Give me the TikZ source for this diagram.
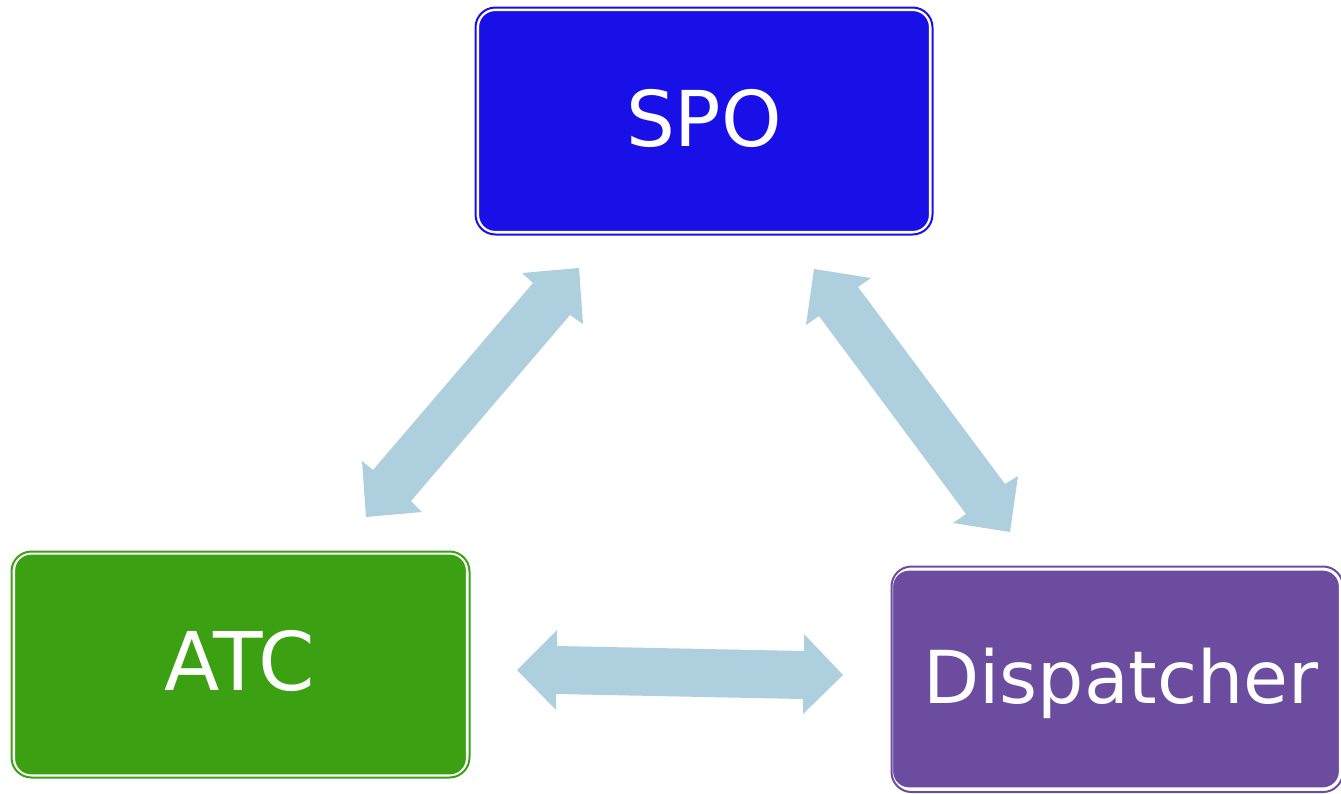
\documentclass[tikz,border=0pt]{standalone}
\usepackage{fontspec}
\setmainfont{DejaVu Sans}
\definecolor{spoblue}{HTML}{1810E6}
\definecolor{atcgreen}{HTML}{3BA012}
\definecolor{dispurple}{HTML}{6B4C9F}
\definecolor{arrowblue}{HTML}{AECFDE}
\tikzset{
  boxnode/.style={draw=white, line width=2.2pt, rounded corners=17pt, inner sep=0pt, outer sep=0pt},
  boxrim/.style={line width=2pt, rounded corners=20pt},
  lbl/.style={text=white, anchor=base, inner sep=0pt},
  blockarrow/.style={fill=arrowblue, draw=none}
}
\begin{document}
\begin{tikzpicture}[x=1pt, y=-1pt]
\useasboundingbox (0,0) rectangle (1341,793);
% boxes
\node[boxnode, fill=spoblue, minimum width=452pt, minimum height=222pt] (spo) at (704,121) {};
\draw[boxrim, draw=spoblue] (475.5,7.5) rectangle (932.5,234.5);
\node[boxnode, fill=atcgreen, minimum width=453pt, minimum height=222pt] (atc) at (240.5,664.5) {};
\draw[boxrim, draw=atcgreen] (11.5,551.5) rectangle (469.5,777.5);
\node[boxnode, fill=dispurple, minimum width=448pt, minimum height=219pt] (dis) at (1116,679) {};
\draw[boxrim, draw=dispurple] (891.5,566.5) rectangle (1343,792);
% labels
\node[lbl, font=\fontsize{77}{90}\selectfont] (spot) at (704,146) {SPO};
\node[lbl, font=\fontsize{81}{90}\selectfont] (atct) at (240,690) {ATC};
\node[lbl, font=\fontsize{73}{90}\selectfont] (dist) at (1121,703) {Dispatcher};
% block arrows
\fill[blockarrow] (579,268) -- (522,273) -- (533,283) -- (373,470) -- (362,461) -- (366,517)
  -- (422,512) -- (411,501) -- (570,315) -- (583,324) -- cycle;
\fill[blockarrow] (814,269) -- (871,278) -- (858,287) -- (1005,484) -- (1018,476) -- (1010,532)
  -- (953,523) -- (966,514) -- (819,316) -- (806,325) -- cycle;
\fill[blockarrow] (517,670) -- (557,630) -- (557,646) -- (804,651) -- (804,634) -- (843,675)
  -- (803,714) -- (803,699) -- (556,694) -- (556,710) -- cycle;
\end{tikzpicture}
\end{document}
